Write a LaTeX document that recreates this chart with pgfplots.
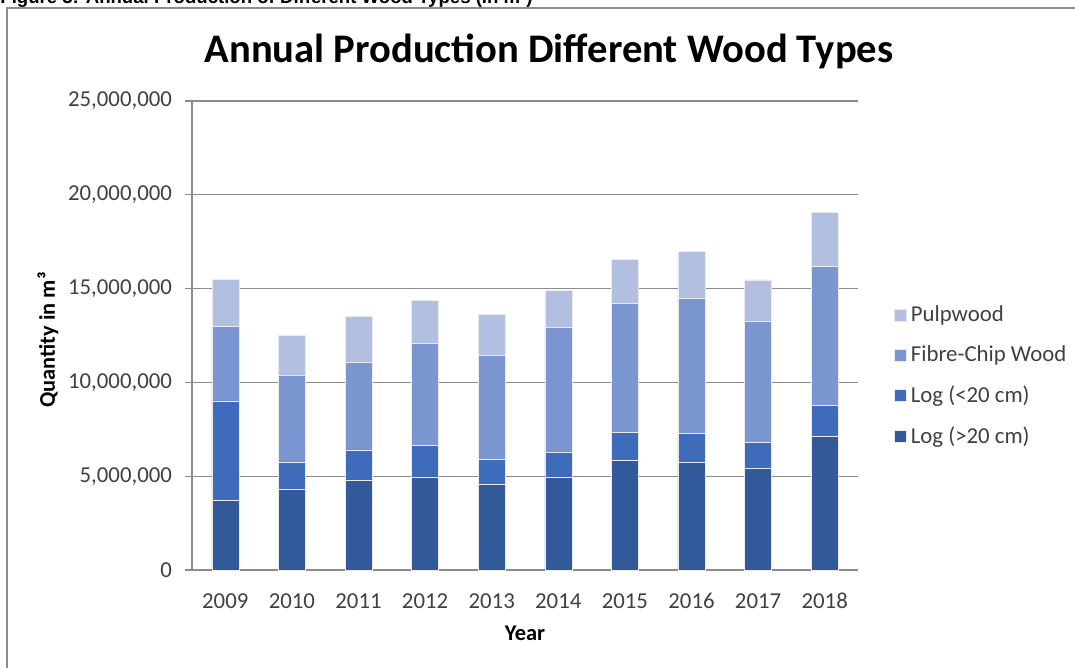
\documentclass[border=0pt]{standalone}
\usepackage{pgfplots}
\pgfplotsset{compat=1.18}
\usepackage{fontspec}
\setmainfont{Carlito}
\newfontfamily\arialfont{Liberation Sans}
\definecolor{cA}{HTML}{325A9B}
\definecolor{cB}{HTML}{3F6CBA}
\definecolor{cC}{HTML}{7A95D0}
\definecolor{cD}{HTML}{B3BFE0}
\definecolor{txt}{HTML}{404040}
\definecolor{gridc}{HTML}{8C8C8C}
\begin{document}
\begin{tikzpicture}
\useasboundingbox (0pt,0pt) rectangle (537.5pt,-334pt);
\clip (0pt,0pt) rectangle (537.5pt,-334pt);
\node[anchor=base west, inner sep=0pt, font=\arialfont\bfseries\fontsize{9.3}{11}\selectfont] at (0pt,-2pt) {Figure 3: Annual Production of Different Wood Types (in m³)};
\draw[gridc, line width=0.8pt] (540pt,-4pt) -- (3.5pt,-4pt) -- (3.5pt,-340pt);
\node[font=\bfseries\fontsize{20.3}{23}\selectfont] at (274.5pt,-25.5pt) {Annual Production Different Wood Types};
\node[rotate=90, font=\bfseries\fontsize{11.2}{13}\selectfont] at (24pt,-170pt) {Quantity in m³};
\node[font=\bfseries\fontsize{11.2}{13}\selectfont] at (262.5pt,-316.5pt) {Year};
\begin{axis}[
  at={(96pt,-285pt)}, anchor=south west,
  scale only axis, width=333pt, height=234.5pt,
  ybar stacked, bar width=13.5pt,
  xmin=-0.5, xmax=9.5, ymin=0, ymax=25000000,
  ytick={0,5000000,10000000,15000000,20000000,25000000},
  scaled y ticks=false,
  /pgf/number format/fixed,
  /pgf/number format/1000 sep={,},
  /pgf/number format/assume math mode=true,
  xtick={0,...,9},
  xticklabels={2009,2010,2011,2012,2013,2014,2015,2016,2017,2018},
  extra x ticks={-0.5,0.5,1.5,2.5,3.5,4.5,5.5,6.5,7.5,8.5,9.5},
  extra x tick labels={},
  extra x tick style={major tick length=3.5pt, tick style={gridc, line width=0.6pt}},
  major x tick style={draw=none},
  axis lines*=left,
  axis line style={gridc, line width=0.6pt},
  tick align=outside,
  major tick length=3.5pt,
  ytick style={gridc, line width=0.6pt},
  ymajorgrids, grid style={gridc, line width=0.6pt},
  ticklabel style={font=\fontsize{11.4}{13}\selectfont, text=txt},
  yticklabel style={xshift=-3pt},
  xticklabel style={yshift=-4pt, text height=8pt, text depth=0pt},
  reverse legend,
  legend style={at={(1.045,0.414)}, anchor=west, draw=none, fill=none,
    font=\fontsize{11.4}{13}\selectfont, text=txt, row sep=6.6pt,
    /tikz/every even column/.append style={column sep=2pt}},
  legend cell align=left,
  legend image code/.code={\fill[#1] (0pt,-3pt) rectangle (6pt,3pt);},
  every axis plot/.append style={draw=white!85!gray, line width=0.25pt},
]
\addplot[fill=cA] coordinates {(0,3700000) (1,4330000) (2,4810000) (3,4970000) (4,4580000) (5,4970000) (6,5840000) (7,5720000) (8,5450000) (9,7120000)};
\addplot[fill=cB] coordinates {(0,5310000) (1,1440000) (2,1600000) (3,1690000) (4,1310000) (5,1330000) (6,1500000) (7,1560000) (8,1370000) (9,1660000)};
\addplot[fill=cC] coordinates {(0,3990000) (1,4630000) (2,4680000) (3,5430000) (4,5540000) (5,6630000) (6,6870000) (7,7230000) (8,6460000) (9,7390000)};
\addplot[fill=cD] coordinates {(0,2480000) (1,2140000) (2,2420000) (3,2280000) (4,2190000) (5,1970000) (6,2350000) (7,2460000) (8,2190000) (9,2880000)};
\legend{Log (>20 cm),Log (<20 cm),Fibre-Chip Wood,Pulpwood}
\end{axis}
\end{tikzpicture}
\end{document}
